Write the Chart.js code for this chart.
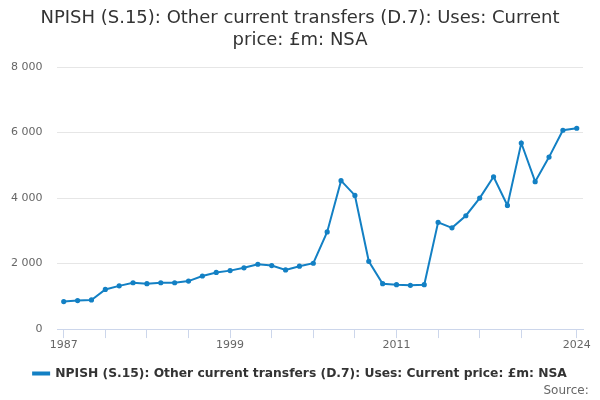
<!DOCTYPE html>
<html>
<head>
<meta charset="utf-8">
<script src="https://cdn.jsdelivr.net/npm/chart.js@4"></script>
<style>
  html, body { margin: 0; padding: 0; background: #fff; }
  #wrap { width: 600px; height: 400px; }
</style>
</head>
<body>
<div id="wrap"><canvas id="grafico"></canvas></div>
<script>
// Datos
const years = [1987, 1988, 1989, 1990, 1991, 1992, 1993, 1994, 1995, 1996,
  1997, 1998, 1999, 2000, 2001, 2002, 2003, 2004, 2005, 2006,
  2007, 2008, 2009, 2010, 2011, 2012, 2013, 2014, 2015, 2016,
  2017, 2018, 2019, 2020, 2021, 2022, 2023, 2024];
const values = [840, 870, 890, 1210, 1320, 1415, 1385, 1415, 1415, 1465,
  1620, 1730, 1785, 1870, 1980, 1940, 1805, 1920, 2010, 2965,
  4530, 4080, 2070, 1385, 1355, 1335, 1355, 3260, 3090, 3460,
  4000, 4650, 3775, 5680, 4500, 5250, 6070, 6130];
const xTickYears = [1987, 1990, 1993, 1996, 1999, 2002, 2005, 2008, 2011, 2014, 2017, 2020, 2024];
const xLabelYears = [1987, 1999, 2011, 2024];
const yTicks = [0, 2000, 4000, 6000, 8000];

const color = '#1380c4';
const font = 'DejaVu Sans, sans-serif';

function formatMiles(v) {
  return String(v).replace(/\B(?=(\d{3})+(?!\d))/g, ' ');
}

const ctx = document.getElementById('grafico').getContext('2d');
new Chart(ctx, {
  type: 'line',
  data: {
    datasets: [{
      label: 'NPISH (S.15): Other current transfers (D.7): Uses: Current price: £m: NSA',
      data: years.map((y, i) => ({ x: y, y: values[i] })),
      borderColor: color,
      backgroundColor: color,
      borderWidth: 2,
      pointRadius: 1.6,
      pointHoverRadius: 3,
      tension: 0
    }]
  },
  options: {
    responsive: true,
    maintainAspectRatio: false,
    animation: false,
    // padding negativo a los lados para que el título y la leyenda queden centrados
    layout: { padding: { left: -4, right: -4, top: 7, bottom: 2 } },
    plugins: {
      title: {
        display: true,
        text: ['NPISH (S.15): Other current transfers (D.7): Uses: Current', 'price: £m: NSA'],
        color: '#333333',
        font: { family: font, size: 18, weight: 'normal', lineHeight: 1.25 },
        padding: { top: 0, bottom: 15 }
      },
      subtitle: {
        display: true,
        position: 'bottom',
        align: 'end',
        // espacios al final para separarlo del borde derecho
        text: 'Source:    ',
        color: '#666666',
        font: { family: font, size: 12 },
        padding: { top: -6, bottom: 0 }
      },
      legend: {
        position: 'bottom',
        labels: {
          color: '#333333',
          font: { family: font, size: 12.3, weight: 'bold' },
          boxWidth: 16,
          boxHeight: 2,
          padding: 16
        }
      },
      tooltip: { enabled: false }
    },
    scales: {
      x: {
        type: 'linear',
        min: 1986.55,
        max: 2024.45,
        afterBuildTicks: function(scale) {
          scale.ticks = xTickYears.map(v => ({ value: v }));
        },
        afterFit: function(scale) {
          // margen derecho del área del gráfico
          scale.paddingRight = 17;
        },
        ticks: {
          autoSkip: false,
          maxRotation: 0,
          color: '#666666',
          font: { family: font, size: 11 },
          padding: 0,
          callback: function(v) {
            return xLabelYears.includes(v) ? String(v) : '';
          }
        },
        grid: {
          drawOnChartArea: false,
          drawTicks: true,
          tickLength: 9,
          color: '#ccd6eb'
        },
        border: { color: '#ccd6eb', width: 1 }
      },
      y: {
        min: 0,
        max: 8000,
        afterBuildTicks: function(scale) {
          scale.ticks = yTicks.map(v => ({ value: v }));
        },
        ticks: {
          color: '#666666',
          font: { family: font, size: 11 },
          padding: 15,
          callback: function(v) { return formatMiles(v); }
        },
        grid: { color: '#e6e6e6', drawTicks: false },
        border: { display: false }
      }
    }
  }
});
</script>
</body>
</html>
